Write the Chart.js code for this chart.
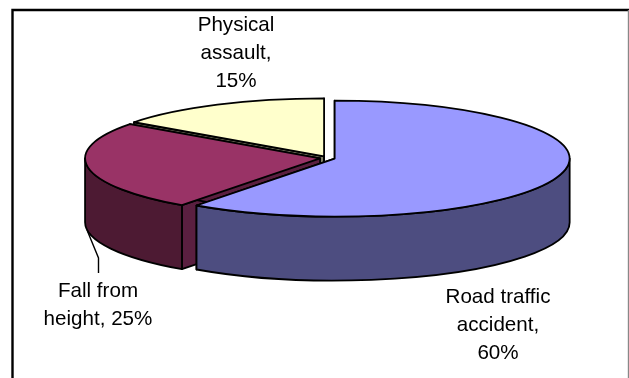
<!DOCTYPE html>
<html>
<head>
<meta charset="utf-8">
<style>
  html, body { margin: 0; padding: 0; background: #ffffff; }
  canvas { display: block; }
</style>
<script src="https://cdn.jsdelivr.net/npm/chart.js@4/dist/chart.umd.js"></script>
</head>
<body>
<canvas id="chart" width="629" height="378"></canvas>
<script>
const categories = ['Road traffic accident', 'Fall from height', 'Physical assault'];
const shares = [60, 25, 15];
const topColors = ['#9999FF', '#993366', '#FFFFCC'];
const wallColors = ['#4D4D80', '#4D1A33', '#808066'];
const cutColors = ['#4D4D80', '#5A1F40', '#808066'];

// Wrapped label lines with anchor centre and first baseline.
const labelLayout = [
  { lines: [categories[0].replace(' accident', ''), 'accident,', shares[0] + '%'], x: 498, y: 303 },
  { lines: ['Fall from', 'height, ' + shares[1] + '%'], x: 98, y: 297 },
  { lines: ['Physical', 'assault,', shares[2] + '%'], x: 236, y: 31 }
];

const DEPTH = 64;
const EXPLODE = 0.032;

// Pie controller that renders its arcs as exploded slices of a tilted disc.
class Pie3DController extends Chart.PieController {
  draw() {
    const { ctx, chartArea } = this.chart;
    const arcs = this.getMeta().data;
    const rx = chartArea.width / 2;
    const ry = chartArea.height / 2;
    const cx0 = (chartArea.left + chartArea.right) / 2;
    const cy0 = (chartArea.top + chartArea.bottom) / 2;

    ctx.save();
    ctx.lineWidth = 1.8;
    ctx.lineJoin = 'round';
    ctx.strokeStyle = '#000000';

    const paint = (fill) => {
      ctx.fillStyle = fill;
      ctx.fill();
      ctx.stroke();
    };

    // Back slices first so nearer ones cover them.
    for (let i = arcs.length - 1; i >= 0; i--) {
      const { startAngle: a0, endAngle: a1 } = arcs[i];
      const mid = (a0 + a1) / 2;
      const cx = cx0 + Math.cos(mid) * EXPLODE * rx;
      const cy = cy0 + Math.sin(mid) * EXPLODE * ry;
      const px = (a) => cx + Math.cos(a) * rx;
      const py = (a) => cy + Math.sin(a) * ry;

      // Radial cut faces
      [a0, a1].forEach((a) => {
        ctx.beginPath();
        ctx.moveTo(cx, cy);
        ctx.lineTo(px(a), py(a));
        ctx.lineTo(px(a), py(a) + DEPTH);
        ctx.lineTo(cx, cy + DEPTH);
        ctx.closePath();
        paint(cutColors[i]);
      });

      // Outer wall: only the part of the rim facing the viewer
      const wallFrom = Math.max(a0, 0);
      const wallTo = Math.min(a1, Math.PI);
      if (wallTo > wallFrom) {
        ctx.beginPath();
        ctx.ellipse(cx, cy, rx, ry, 0, wallFrom, wallTo);
        ctx.ellipse(cx, cy + DEPTH, rx, ry, 0, wallTo, wallFrom, true);
        ctx.closePath();
        paint(wallColors[i]);
      }

      // Top surface
      ctx.beginPath();
      ctx.moveTo(cx, cy);
      ctx.ellipse(cx, cy, rx, ry, 0, a0, a1);
      ctx.closePath();
      paint(topColors[i]);
    }
    ctx.restore();
  }
}
Pie3DController.id = 'pie3d';
Pie3DController.defaults = Chart.PieController.defaults;
Pie3DController.overrides = Chart.PieController.overrides;
Chart.register(Pie3DController);

// Chart frame: heavy left and top rules, thin grey right rule.
const framePlugin = {
  id: 'frame',
  beforeDraw(chart) {
    const { ctx, width, height } = chart;
    ctx.save();
    ctx.fillStyle = '#ffffff';
    ctx.fillRect(0, 0, width, height);
    ctx.strokeStyle = '#000000';
    ctx.lineWidth = 2.4;
    ctx.beginPath();
    ctx.moveTo(12.5, height);
    ctx.lineTo(12.5, 10);
    ctx.lineTo(width, 10);
    ctx.stroke();
    ctx.strokeStyle = '#888888';
    ctx.lineWidth = 1.2;
    ctx.beginPath();
    ctx.moveTo(628.4, 10);
    ctx.lineTo(628.4, height);
    ctx.stroke();
    ctx.restore();
  }
};

// Category labels and the leader line for the fall slice.
const labelPlugin = {
  id: 'sliceLabels',
  afterDatasetsDraw(chart) {
    const { ctx } = chart;
    ctx.save();
    ctx.strokeStyle = '#000000';
    ctx.lineWidth = 1.4;
    ctx.beginPath();
    ctx.moveTo(87, 230);
    ctx.lineTo(98.5, 258);
    ctx.lineTo(98.5, 273);
    ctx.stroke();
    ctx.fillStyle = '#000000';
    ctx.font = '20.6px "Liberation Sans", Arial, sans-serif';
    ctx.textAlign = 'center';
    ctx.textBaseline = 'alphabetic';
    labelLayout.forEach((label) => {
      label.lines.forEach((line, k) => ctx.fillText(line, label.x, label.y + k * 28));
    });
    ctx.restore();
  }
};

new Chart(document.getElementById('chart'), {
  type: 'pie3d',
  data: {
    labels: categories,
    datasets: [{ data: shares, backgroundColor: topColors }]
  },
  options: {
    responsive: false,
    animation: false,
    layout: { padding: { left: 92.5, right: 66.5, top: 100, bottom: 162 } },
    plugins: { legend: { display: false }, tooltip: { enabled: false }, title: { display: false } }
  },
  plugins: [framePlugin, labelPlugin]
});
</script>
</body>
</html>
